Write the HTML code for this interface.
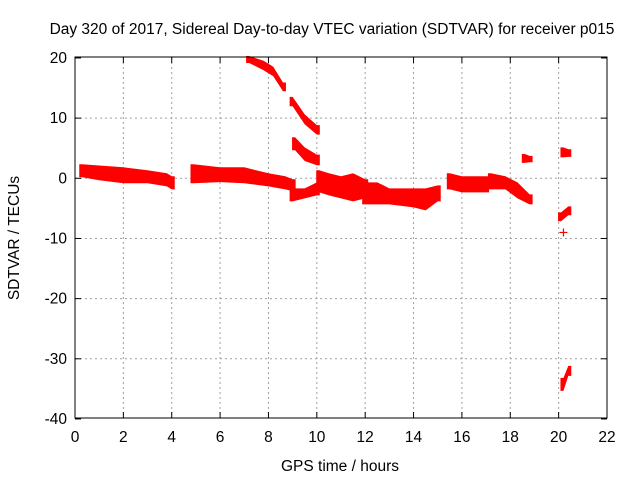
<!DOCTYPE html>
<html><head><meta charset="utf-8"><style>
body{margin:0;background:#fff}
svg text{font-family:"Liberation Sans",sans-serif;font-size:15.5px;fill:#000}
</style></head><body>
<svg id="c" width="640" height="480">
<rect width="640" height="480" fill="#fff"/>
<g id="grid"></g><g id="marks"></g><g id="axes"></g>
</svg>
<script>
const xTicks=[0,2,4,6,8,10,12,14,16,18,20,22];
const yTicks=[20,10,0,-10,-20,-30,-40];
const segT=[[0.3,1,2,3,3.8,4.0],[4.9,6,7,8,8.7,9.0],[9.0,9.5,10.0],[10.1,10.5,11,11.5,12],[12,12.5,13,14,14.5,15],[15.5,16,17],[17.2,17.8,18.3,18.8],[7.2,7.8,8.2,8.6],[9.0,9.5,10.0],[9.1,9.5,10.0],[18.6,18.8],[20.2,20.4],[20.1,20.4],[20.2,20.4]];
const segLo=[[0.5,0,-0.5,-0.5,-1,-1.5],[-0.5,-0.3,-0.5,-1,-1.5,-1.8],[-3.5,-3,-2.5],[-2,-2.5,-3,-3.5,-3],[-4,-4,-4,-4.5,-5,-3.5],[-1.5,-2,-2],[-1.5,-1.5,-3,-4],[19.5,18.3,17.3,14.8],[12.3,9.3,7.6],[5,3.2,2.5],[2.9,3.0],[3.8,3.9],[-6.8,-5.8],[-35,-32.5]];
const segHi=[[2,1.8,1.5,1,0.5,0],[2,1.5,1.5,0.5,0,-0.5],[-2,-2,-1],[1,0.5,0,0.5,-0.5],[-1,-1,-2,-2,-2,-1.5],[0.5,0,0],[0.5,0,-1,-3],[20,19.2,18.2,15.6],[13.2,10.3,8.5],[6.5,4.8,3.6],[3.7,3.4],[4.8,4.5],[-6,-5],[-33.5,-31.5]];
const singleT=[20.2];const singleV=[-9];
const X=t=>75+t*532/22, Y=v=>178.3-v*361/60;
const NS='http://www.w3.org/2000/svg';
function mk(tag,attrs,parent){const e=document.createElementNS(NS,tag);for(const k in attrs)e.setAttribute(k,attrs[k]);parent.appendChild(e);return e;}
const grid=document.getElementById('grid'),marks=document.getElementById('marks'),axes=document.getElementById('axes');
xTicks.forEach(t=>{if(t>0&&t<22){const l=mk('line',{x1:X(t),x2:X(t),y1:57,y2:418,stroke:'#a0a0a0','stroke-dasharray':'2,3'},grid);

}
mk('line',{x1:X(t),x2:X(t),y1:418,y2:412,stroke:'#000'},axes);mk('line',{x1:X(t),x2:X(t),y1:57,y2:63,stroke:'#000'},axes);
const tx=mk('text',{x:X(t),y:442,'text-anchor':'middle'},axes);tx.textContent=t;

});
yTicks.forEach(v=>{if(v<20&&v>-40){const l=mk('line',{x1:75,x2:607,y1:Y(v),y2:Y(v),stroke:'#a0a0a0','stroke-dasharray':'2,3'},grid);

}
mk('line',{x1:75,x2:81,y1:Y(v),y2:Y(v),stroke:'#000'},axes);mk('line',{x1:601,x2:607,y1:Y(v),y2:Y(v),stroke:'#000'},axes);
const tx=mk('text',{x:67,y:Y(v)+5,'text-anchor':'end'},axes);tx.textContent=v;

});
const fr=mk('rect',{x:75,y:57,width:532,height:361,fill:'none',stroke:'#000'},axes);


const P=2;
segT.forEach((ts,i)=>{let top=ts.map((t,j)=>X(t)+','+(Y(segHi[i][j])-P));let bot=ts.map((t,j)=>X(t)+','+(Y(segLo[i][j])+P)).reverse();
const l=ts.length-1;top.unshift((X(ts[0])-3)+','+(Y(segHi[i][0])-P));top.push((X(ts[l])+3)+','+(Y(segHi[i][l])-P));
bot.unshift((X(ts[l])+3)+','+(Y(segLo[i][l])+P));bot.push((X(ts[0])-3)+','+(Y(segLo[i][0])+P));
const p=mk('polygon',{points:top.concat(bot).join(' '),fill:'#f00'},marks);

});
singleT.forEach((t,i)=>{const x=X(t),y=Y(singleV[i]);const p=mk('path',{d:`M${x-4},${y}H${x+4}M${x},${y-4}V${y+4}`,stroke:'#f00','stroke-width':1.2},marks);

});
let t=mk('text',{x:332,y:34,'text-anchor':'middle'},axes);t.textContent='Day 320 of 2017, Sidereal Day-to-day VTEC variation (SDTVAR) for receiver p015';


t=mk('text',{x:340,y:471,'text-anchor':'middle'},axes);t.textContent='GPS time / hours';


t=mk('text',{x:0,y:0,'text-anchor':'middle',transform:'translate(19,238) rotate(-90)'},axes);t.textContent='SDTVAR / TECUs';


</script>
</body></html>
